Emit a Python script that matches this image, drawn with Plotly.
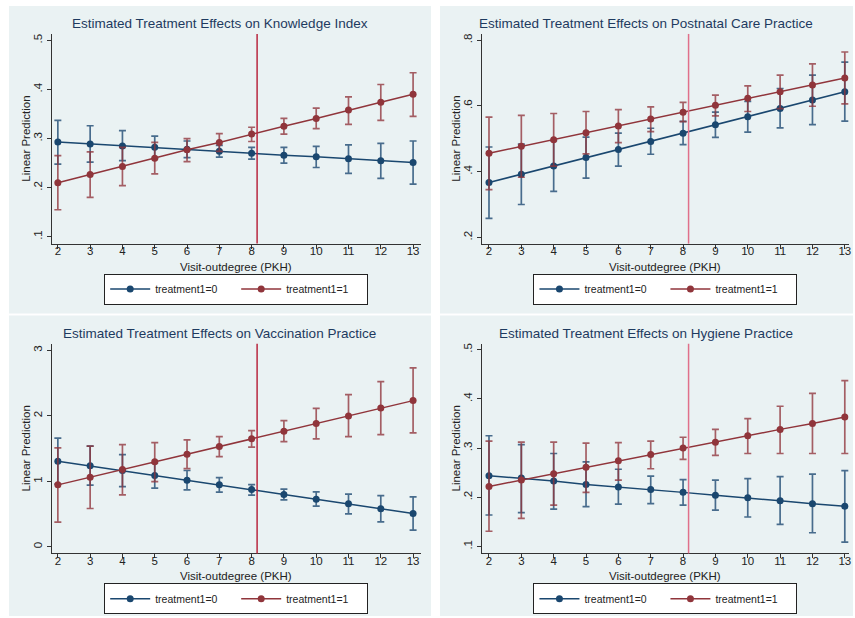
import plotly.graph_objects as go
from plotly.subplots import make_subplots

# ---------------- data ----------------
visits = [2, 3, 4, 5, 6, 7, 8, 9, 10, 11, 12, 13]
x_tick_labels = ["2", "3", "4", "5", "6", "7", "8", "9", "10", "11", "12", "13"]
mean_visits = 8.17

titles = ["Estimated Treatment Effects on Knowledge Index",
          "Estimated Treatment Effects on Postnatal Care Practice",
          "Estimated Treatment Effects on Vaccination Practice",
          "Estimated Treatment Effects on Hygiene Practice"]
x_title = "Visit-outdegree (PKH)"
y_title = "Linear Prediction"

series_names = ["treatment1=0", "treatment1=1"]

know0 = [0.293, 0.289, 0.285, 0.282, 0.278, 0.274, 0.270, 0.266, 0.263, 0.259, 0.255, 0.251]
know0_lo = [0.248, 0.252, 0.255, 0.259, 0.261, 0.262, 0.258, 0.250, 0.241, 0.229, 0.219, 0.207]
know0_hi = [0.337, 0.326, 0.316, 0.305, 0.295, 0.286, 0.282, 0.282, 0.284, 0.287, 0.290, 0.295]
know1 = [0.210, 0.227, 0.243, 0.260, 0.277, 0.292, 0.309, 0.325, 0.341, 0.358, 0.374, 0.390]
know1_lo = [0.155, 0.180, 0.204, 0.228, 0.253, 0.274, 0.294, 0.309, 0.320, 0.329, 0.337, 0.345]
know1_hi = [0.265, 0.273, 0.282, 0.292, 0.300, 0.310, 0.323, 0.341, 0.362, 0.385, 0.410, 0.434]

post0 = [0.367, 0.392, 0.417, 0.443, 0.467, 0.492, 0.517, 0.543, 0.567, 0.592, 0.618, 0.643]
post0_lo = [0.258, 0.300, 0.340, 0.380, 0.417, 0.453, 0.482, 0.504, 0.520, 0.533, 0.543, 0.554]
post0_hi = [0.475, 0.484, 0.494, 0.505, 0.517, 0.532, 0.553, 0.581, 0.614, 0.653, 0.694, 0.733]
post1 = [0.456, 0.477, 0.497, 0.518, 0.539, 0.560, 0.581, 0.602, 0.623, 0.643, 0.664, 0.685]
post1_lo = [0.345, 0.383, 0.417, 0.454, 0.488, 0.522, 0.552, 0.570, 0.583, 0.592, 0.599, 0.606]
post1_hi = [0.566, 0.571, 0.577, 0.583, 0.589, 0.597, 0.611, 0.633, 0.661, 0.694, 0.728, 0.764]

vacc0 = [1.307, 1.236, 1.165, 1.088, 1.017, 0.946, 0.875, 0.799, 0.727, 0.656, 0.580, 0.509]
vacc0_lo = [0.956, 0.941, 0.920, 0.895, 0.870, 0.834, 0.789, 0.717, 0.621, 0.504, 0.382, 0.255]
vacc0_hi = [1.658, 1.536, 1.409, 1.280, 1.165, 1.058, 0.951, 0.880, 0.839, 0.804, 0.783, 0.763]
vacc1 = [0.946, 1.063, 1.180, 1.297, 1.414, 1.531, 1.648, 1.765, 1.882, 1.998, 2.120, 2.232]
vacc1_lo = [0.377, 0.585, 0.794, 0.997, 1.195, 1.378, 1.521, 1.607, 1.648, 1.683, 1.714, 1.739]
vacc1_hi = [1.510, 1.536, 1.561, 1.592, 1.632, 1.683, 1.775, 1.927, 2.115, 2.324, 2.522, 2.731]

hyg0 = [0.244, 0.239, 0.233, 0.226, 0.221, 0.216, 0.210, 0.204, 0.199, 0.193, 0.187, 0.182]
hyg0_lo = [0.164, 0.169, 0.176, 0.181, 0.186, 0.187, 0.184, 0.174, 0.160, 0.145, 0.128, 0.109]
hyg0_hi = [0.325, 0.307, 0.289, 0.272, 0.257, 0.243, 0.236, 0.235, 0.238, 0.242, 0.247, 0.254]
hyg1 = [0.222, 0.235, 0.248, 0.261, 0.274, 0.287, 0.300, 0.312, 0.325, 0.338, 0.350, 0.363]
hyg1_lo = [0.131, 0.157, 0.184, 0.210, 0.235, 0.258, 0.277, 0.285, 0.289, 0.289, 0.289, 0.289]
hyg1_hi = [0.314, 0.312, 0.312, 0.310, 0.311, 0.314, 0.322, 0.338, 0.360, 0.385, 0.411, 0.437]

y_ticks_know = [0.1, 0.2, 0.3, 0.4, 0.5]
y_labels_know = [".1", ".2", ".3", ".4", ".5"]
y_ticks_post = [0.2, 0.4, 0.6, 0.8]
y_labels_post = [".2", ".4", ".6", ".8"]
y_ticks_vacc = [0, 1, 2, 3]
y_labels_vacc = ["0", "1", "2", "3"]
y_ticks_hyg = [0.1, 0.2, 0.3, 0.4, 0.5]
y_labels_hyg = [".1", ".2", ".3", ".4", ".5"]

# ---------------- styling ----------------
W, H = 855, 618
NAVY = "#1a476f"
MAROON = "#90353b"
NAVY_ERR = "rgba(26,71,111,0.78)"
MAROON_ERR = "rgba(144,53,59,0.78)"
BG = "#eaf2f3"
TITLE_C = "#1e3a5f"
TXT = "#222222"
FONT = "Liberation Sans, Arial, sans-serif"

panels = [
    dict(data=[(know0, know0_lo, know0_hi), (know1, know1_lo, know1_hi)],
         yt=y_ticks_know, yl=y_labels_know, yr=[0.086, 0.513], xr=[1.815, 13.23],
         px=(52, 421.5), py=(33, 243), box=(9, 5, 432, 313), vcol="#b8283f"),
    dict(data=[(post0, post0_lo, post0_hi), (post1, post1_lo, post1_hi)],
         yt=y_ticks_post, yl=y_labels_post, yr=[0.181, 0.819], xr=[1.78, 13.13],
         px=(483, 851), py=(33, 243), box=(441, 5, 855, 313), vcol="#e0708a"),
    dict(data=[(vacc0, vacc0_lo, vacc0_hi), (vacc1, vacc1_lo, vacc1_hi)],
         yt=y_ticks_vacc, yl=y_labels_vacc, yr=[-0.10, 3.10], xr=[1.815, 13.23],
         px=(52, 421.5), py=(343.3, 553.3), box=(9, 315, 432, 616), vcol="#b8283f"),
    dict(data=[(hyg0, hyg0_lo, hyg0_hi), (hyg1, hyg1_lo, hyg1_hi)],
         yt=y_ticks_hyg, yl=y_labels_hyg, yr=[0.086, 0.512], xr=[1.78, 13.13],
         px=(483, 851), py=(343.3, 553.3), box=(441, 315, 855, 616), vcol="#e0708a"),
]

fig = make_subplots(rows=2, cols=2)
cols = [(NAVY, NAVY_ERR), (MAROON, MAROON_ERR)]
shapes = []
annotations = []
layout_upd = {}

for i, p in enumerate(panels):
    r, c = i // 2 + 1, i % 2 + 1
    legname = "legend" if i == 0 else f"legend{i+1}"
    for k, (yv, lo, hi) in enumerate(p["data"]):
        col, ecol = cols[k]
        fig.add_trace(go.Scatter(
            x=visits, y=yv, mode="lines+markers", name=series_names[k],
            line=dict(color=col, width=1.5),
            marker=dict(color=col, size=7),
            error_y=dict(type="data", symmetric=False,
                         array=[h - v for h, v in zip(hi, yv)],
                         arrayminus=[v - l for v, l in zip(yv, lo)],
                         color=ecol, thickness=1.7, width=3.5),
            legend=legname, showlegend=True,
        ), row=r, col=c)

    ax = "" if i == 0 else str(i + 1)
    x0, x1 = p["px"]
    ytop, ybot = p["py"]
    layout_upd[f"xaxis{ax}"] = dict(
        domain=[x0 / W, x1 / W], range=p["xr"], tickvals=visits, ticktext=x_tick_labels,
        showgrid=False, zeroline=False, showline=True, linecolor="#333333", linewidth=1,
        ticks="outside", ticklen=4, tickcolor="#333333", ticklabelstandoff=-7,
        tickfont=dict(size=11.5, color=TXT, family=FONT),
    )
    layout_upd[f"yaxis{ax}"] = dict(
        domain=[1 - ybot / H, 1 - ytop / H], range=p["yr"], tickvals=p["yt"], ticktext=p["yl"],
        showgrid=True, gridcolor=BG, gridwidth=1.2, zeroline=False,
        showline=True, linecolor="#333333", linewidth=1,
        ticks="outside", ticklen=4, tickcolor="#333333", tickangle=-90,
        tickfont=dict(size=11.5, color=TXT, family=FONT),
    )
    bx0, by0, bx1, by1 = p["box"]
    shapes.append(dict(type="rect", xref="paper", yref="paper", layer="below",
                       x0=bx0 / W, x1=bx1 / W, y0=1 - by1 / H, y1=1 - by0 / H,
                       fillcolor=BG, line=dict(width=0)))
    xref = "x" if i == 0 else f"x{i+1}"
    yref = "y domain" if i == 0 else f"y{i+1} domain"
    shapes.append(dict(type="line", xref=xref, yref=yref, x0=mean_visits, x1=mean_visits,
                       y0=0, y1=1, line=dict(color=p["vcol"], width=1.5), layer="above"))
    annotations.append(dict(text=titles[i], xref="paper", yref="paper",
                            x=((bx0 + bx1) / 2) / W, y=1 - (ytop - 10) / H,
                            xanchor="center", yanchor="middle", showarrow=False,
                            font=dict(size=13.5, color=TITLE_C, family=FONT)))
    annotations.append(dict(text=x_title, xref="paper", yref="paper",
                            x=((x0 + x1) / 2) / W, y=1 - (ybot + 23) / H,
                            xanchor="center", yanchor="middle", showarrow=False,
                            font=dict(size=11.5, color=TXT, family=FONT)))
    annotations.append(dict(text=y_title, xref="paper", yref="paper", textangle=-90,
                            x=(x0 - 26) / W, y=1 - ((ytop + ybot) / 2) / H,
                            xanchor="center", yanchor="middle", showarrow=False,
                            font=dict(size=11.5, color=TXT, family=FONT)))
    layout_upd[legname] = dict(
        x=((x0 + x1) / 2) / W, y=1 - (ybot + 30) / H, xanchor="center", yanchor="top",
        orientation="h", bgcolor="white", bordercolor="#222222", borderwidth=1,
        font=dict(size=10.5, color=TXT, family=FONT),
        entrywidth=76, entrywidthmode="pixels", itemwidth=40, tracegroupgap=0,
    )

fig.update_layout(
    width=W, height=H, margin=dict(l=0, r=0, t=0, b=0),
    paper_bgcolor="white", plot_bgcolor="white",
    shapes=shapes, annotations=annotations,
    font=dict(family=FONT), **layout_upd,
)

fig.write_html("out.html", config={"displayModeBar": False},
               post_script="document.body.style.margin='0';")
